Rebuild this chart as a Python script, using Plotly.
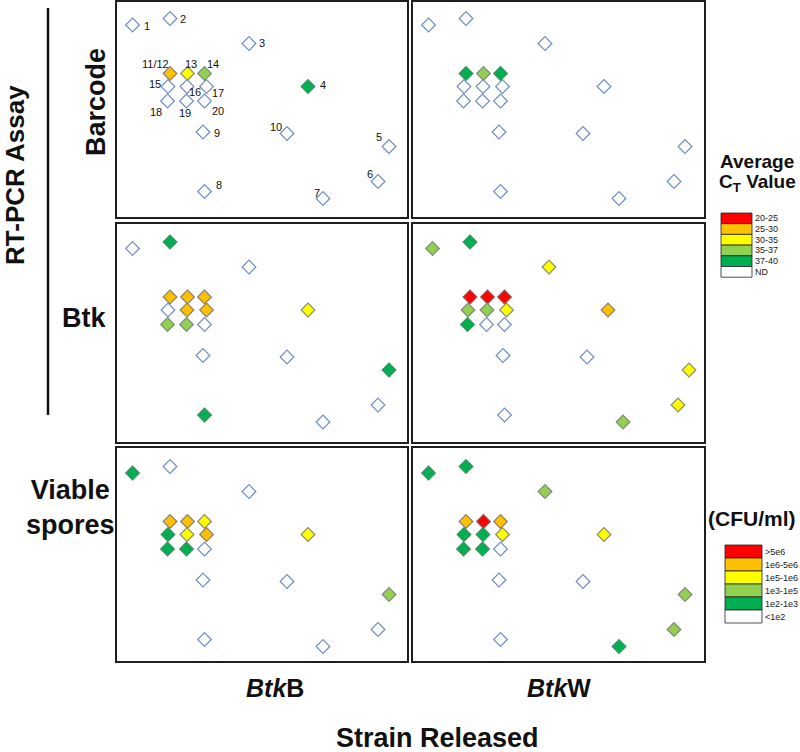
import plotly.graph_objects as go
from plotly.subplots import make_subplots

# site map coordinates (same 19 release sites in every panel; 11 and 12 overlap)
site_names = ['1', '2', '3', '4', '5', '6', '7', '8', '9', '10',
              '11/12', '13', '14', '15', '16', '17', '18', '19', '20']
site_x = [15.5, 53, 132, 191, 272, 261, 206, 87.5, 86, 170,
          53, 70.5, 87.5, 51, 70, 89.5, 50.5, 69.5, 87.5]
site_y = [24.5, 18, 43, 86, 146, 181, 198, 191, 131.5, 133,
          73, 73, 73, 86, 86, 86, 100.5, 100.5, 100.5]

# level per site: 0 = ND / <1e2, 1..5 = increasing signal
barcode_btkb = [0, 0, 0, 1, 0, 0, 0, 0, 0, 0, 4, 3, 2, 0, 0, 0, 0, 0, 0]
barcode_btkw = [0, 0, 0, 0, 0, 0, 0, 0, 0, 0, 1, 2, 1, 0, 0, 0, 0, 0, 0]
btk_btkb = [0, 1, 0, 3, 1, 0, 0, 1, 0, 0, 4, 4, 4, 0, 4, 4, 2, 2, 0]
btk_btkw = [2, 1, 3, 4, 3, 3, 2, 0, 0, 0, 5, 5, 5, 2, 2, 3, 1, 0, 0]
viable_btkb = [1, 0, 0, 3, 2, 0, 0, 0, 0, 0, 4, 4, 3, 1, 3, 4, 1, 1, 0]
viable_btkw = [1, 1, 2, 3, 2, 2, 1, 0, 0, 0, 4, 5, 4, 1, 1, 3, 1, 1, 0]

row_names = ['Barcode', 'Btk', 'Viable<br>spores']
strains = ['<i>Btk</i>B', '<i>Btk</i>W']
ct_labels = ['20-25', '25-30', '30-35', '35-37', '37-40', 'ND']
cfu_labels = ['>5e6', '1e6-5e6', '1e5-1e6', '1e3-1e5', '1e2-1e3', '<1e2']

# styles
level_fill = ['#ffffff', '#00b050', '#92d050', '#ffff00', '#ffc000', '#ff0000']
level_edge = ['#6f8fc2', '#3d8f63', '#7f8a7a', '#8c8c6a', '#8c8070', '#a05050']
legend_fill = level_fill[::-1]
FONT = 'Liberation Sans, Arial, sans-serif'
W, H = 800, 752


def px(x):
    return x / W


def py(y):
    return 1 - y / H


def label(x, y, text, size, **kw):
    # paper-positioned text, centred unless told otherwise
    d = dict(x=px(x), y=py(y), xref='paper', yref='paper', text=text, showarrow=False,
             xanchor='center', yanchor='middle', font=dict(family=FONT, size=size, color='#111'))
    d.update(kw)
    return d


panels = [[barcode_btkb, barcode_btkw], [btk_btkb, btk_btkw], [viable_btkb, viable_btkw]]
col_px = [(117, 407), (413, 704)]
row_px = [(2, 217), (224, 442), (448, 661)]
y_ranges = [[216.5, 1.5], [218, 0], [212.5, -0.5]]
x_ranges = [[[0, 290], [0, 291]], [[0, 290], [-4, 287]], [[0, 290], [0, 291]]]

fig = make_subplots(rows=3, cols=2)

for r in range(3):
    for c in range(2):
        lv = panels[r][c]
        fig.add_trace(go.Scatter(
            x=site_x, y=site_y, mode='markers',
            marker=dict(symbol='diamond', size=10.5,
                        color=[level_fill[v] for v in lv],
                        line=dict(color=[level_edge[v] for v in lv], width=1.2)),
            hoverinfo='skip', showlegend=False), row=r + 1, col=c + 1)
        n = r * 2 + c + 1
        fig.layout['xaxis%d' % n].update(domain=[px(col_px[c][0]), px(col_px[c][1])],
                                         range=x_ranges[r][c])
        fig.layout['yaxis%d' % n].update(domain=[py(row_px[r][1]), py(row_px[r][0])],
                                         range=y_ranges[r])

fig.update_xaxes(showticklabels=False, showgrid=False, zeroline=False, ticks='',
                 showline=True, mirror=True, linecolor='#1e1e1e', linewidth=2)
fig.update_yaxes(showticklabels=False, showgrid=False, zeroline=False, ticks='',
                 showline=True, mirror=True, linecolor='#1e1e1e', linewidth=2)

# site number labels on the first panel
label_shift = [(14, 1), (13, 1), (13, 0), (15, -1), (-10, -9), (-8, -7), (-6, -5), (14, -6),
               (14, 1), (-11, -6), (-15, -9), (3, -9), (8, -9), (-13, -2), (8, 6), (11, 7),
               (-12, 11), (-2, 12), (13, 10)]
annotations = []
for name, x, y, (dx, dy) in zip(site_names, site_x, site_y, label_shift):
    annotations.append(dict(x=x, y=y, xref='x', yref='y', text=name, showarrow=False,
                            xanchor='center', yanchor='middle', xshift=dx, yshift=-dy,
                            font=dict(family=FONT, size=11, color='#111')))

annotations.append(label(15, 175, '<b>RT-PCR Assay</b>', 26, textangle=-90))
annotations.append(label(96, 102, '<b>%s</b>' % row_names[0], 27, textangle=-90))
annotations.append(label(84, 318, '<b>%s</b>' % row_names[1], 27))
annotations.append(label(70, 508, '<b>%s</b>' % row_names[2], 27))
for s, xc in zip(strains, [275, 559]):
    annotations.append(label(xc, 688, '<b>%s</b>' % s, 25))
annotations.append(label(437, 738, '<b>Strain Released</b>', 27))

# colour keys
annotations.append(label(757, 161, '<b>Average</b>', 19))
annotations.append(label(757, 183, '<b>C<sub>T</sub> Value</b>', 19))
annotations.append(label(752, 518, '<b>(CFU/ml)</b>', 21))

shapes = [dict(type='line', xref='paper', yref='paper', x0=px(48), x1=px(48), y0=py(8), y1=py(415),
               line=dict(color='#111', width=2.5))]


def add_key(labels, x0, x1, top, h):
    for i, (lab, col) in enumerate(zip(labels, legend_fill)):
        y0 = top + i * h
        shapes.append(dict(type='rect', xref='paper', yref='paper', x0=px(x0), x1=px(x1),
                           y0=py(y0 + h), y1=py(y0), fillcolor=col,
                           line=dict(color='#222', width=0.8)))
        annotations.append(label(x1 + 1, y0 + h / 2, lab, 9, xanchor='left',
                                 font=dict(family=FONT, size=9, color='#222')))


add_key(ct_labels, 721, 752, 213, 10.7)
add_key(cfu_labels, 725, 762, 545, 13)

fig.update_layout(width=W, height=H, margin=dict(l=0, r=0, t=0, b=0),
                  paper_bgcolor='white', plot_bgcolor='white',
                  annotations=annotations, shapes=shapes)

# page body has a default 8px margin; drop it so the figure fills the window
fig.write_html('out.html', config={'displayModeBar': False},
               post_script="document.body.style.margin='0';")
